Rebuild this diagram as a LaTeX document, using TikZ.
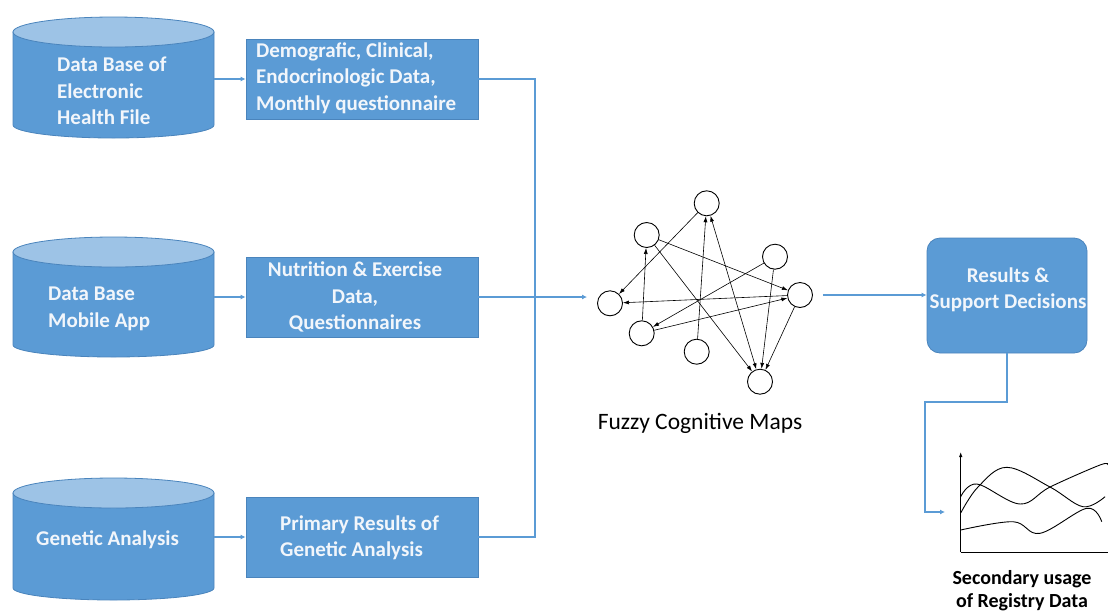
\documentclass[tikz,border=0pt]{standalone}
\usepackage{fontspec}
\setmainfont{Carlito}
\usetikzlibrary{arrows.meta}
\definecolor{boxblue}{HTML}{5B9BD5}
\definecolor{boxedge}{HTML}{4A84BC}
\definecolor{topblue}{HTML}{9DC3E6}
\definecolor{linkblue}{HTML}{5B9BD5}
\definecolor{txtwhite}{HTML}{F2F6FB}
\begin{document}
\begin{tikzpicture}[x=1pt,y=-1pt,
  databox/.style={draw=boxedge,line width=0.8pt,fill=boxblue,minimum width=232pt,minimum height=80pt,inner sep=0pt},
  boxtext/.style={text=txtwhite,font=\fontsize{21}{26.5}\selectfont\bfseries,inner sep=0pt},
  cylbody/.style={draw=boxedge,line width=0.8pt,fill=boxblue},
  cyltop/.style={draw=boxedge,line width=0.8pt,fill=topblue},
  link/.style={draw=linkblue,line width=1.6pt},
  linkarrow/.style={link,-{Latex[length=5pt,width=5pt]}},
  concept/.style={circle,draw=black,line width=0.9pt,minimum size=25pt,inner sep=0pt},
  fcmedge/.style={draw=black,line width=0.6pt,-{Latex[length=6pt,width=4pt]}},
  chartline/.style={draw=black,line width=0.9pt},
  hold/.style={inner sep=0pt,minimum width=201pt}]
\useasboundingbox (0,0) rectangle (1108,614);

% ---------- cylinders ----------
% cylinder 1
\path[cylbody] (13,32) -- (13,125) arc[start angle=180,end angle=0,x radius=100.5,y radius=13] -- (214,32) -- cycle;
\path[cyltop] (113.5,32) ellipse[x radius=100.5,y radius=15];
\node[hold,minimum height=121pt] (cyl1) at (113.5,77.5) {};
\node[boxtext,anchor=west,align=left] (cyl1t) at (57,91) {Data Base of\\Electronic\\Health File};
% cylinder 2
\path[cylbody] (13,252) -- (13,345) arc[start angle=180,end angle=0,x radius=100.5,y radius=12] -- (214,252) -- cycle;
\path[cyltop] (113.5,252) ellipse[x radius=100.5,y radius=15];
\node[hold,minimum height=120pt] (cyl2) at (113.5,297) {};
\node[boxtext,anchor=west,align=left] (cyl2t) at (48,309) {Data Base\\Mobile App};
% cylinder 3
\path[cylbody] (13,493) -- (13,588) arc[start angle=180,end angle=0,x radius=100.5,y radius=12] -- (214,493) -- cycle;
\path[cyltop] (113.5,493) ellipse[x radius=100.5,y radius=15];
\node[hold,minimum height=124pt] (cyl3) at (113.5,537) {};
\node[boxtext,anchor=west] (cyl3t) at (36,540) {Genetic Analysis};

% ---------- data boxes ----------
\node[databox] (box1) at (362,79) {};
\node[boxtext,anchor=west,align=left] at (256,78) {Demografic, Clinical,\\Endocrinologic Data,\\Monthly questionnaire};
\node[databox] (box2) at (362,297) {};
\node[boxtext,align=center] at (355,297) {Nutrition \& Exercise\\Data,\\Questionnaires};
\node[databox] (box3) at (362,537) {};
\node[boxtext,anchor=west,align=left] at (280,538) {Primary Results of\\Genetic Analysis};

% ---------- links ----------
\draw[linkarrow] (cyl1.east |- box1.west) -- (box1.west);
\draw[linkarrow] (cyl2.east |- box2.west) -- (box2.west);
\draw[linkarrow] (cyl3.east |- box3.west) -- (box3.west);
\coordinate (merge) at (535,297);
\draw[link] (box1.east) -| (merge);
\draw[link] (box3.east) -| (merge);

% ---------- fuzzy cognitive map ----------
\node[concept] (A) at (706.7,203.3) {};
\node[concept] (B) at (646.7,235) {};
\node[concept] (C) at (775,256.7) {};
\node[concept] (D) at (800,295) {};
\node[concept] (E) at (610,303.3) {};
\node[concept] (F) at (641.7,333.3) {};
\node[concept] (G) at (696.7,351.7) {};
\node[concept] (H) at (760,381.7) {};
\draw[fcmedge] (A) -- (E);
\draw[fcmedge] (G) -- (A);
\draw[fcmedge,{Latex[length=6pt,width=4pt]}-{Latex[length=6pt,width=4pt]}] (A) -- (H);
\draw[fcmedge] (B) -- (H);
\draw[fcmedge] (C) -- (H);
\draw[fcmedge] (D) -- (H);
\draw[fcmedge] (B) -- (D);
\draw[fcmedge] (F) -- (B);
\draw[fcmedge] (C) -- (F);
\draw[fcmedge] (D) -- (E);
\draw[fcmedge] (F) -- (D);
\node[font=\fontsize{23.5}{26}\selectfont,inner sep=0pt] (fcmlabel) at (700,423) {Fuzzy Cognitive Maps};

\draw[linkarrow] (box2.east) -- (merge) -- ([xshift=-10pt]E.west |- merge);

% ---------- results ----------
\node[draw=boxedge,line width=0.8pt,fill=boxblue,rounded corners=13pt,minimum width=160pt,minimum height=115pt,inner sep=0pt] (res) at (1007,295.5) {};
\node[boxtext,align=center] (restext) at (1008,290) {Results \&\\Support Decisions};
\draw[linkarrow] (D.east) ++(10pt,0) coordinate (dout) (dout) -- (res.west |- dout);

% ---------- chart ----------
\coordinate (orig) at (960.7,552);
\draw[chartline,-{Latex[length=5pt,width=3.5pt]}] (orig) -- (960.7,452) coordinate (ytop);
\draw[chartline] (orig) -- (1108,552) coordinate (xend);
\draw[chartline] plot[smooth,tension=0.6] coordinates {(960.7,513) (978,487) (1006.7,467.3) (1050,487) (1083,506.7) (1105,496.7)};
\draw[chartline] plot[smooth,tension=0.6] coordinates {(960.7,496.7) (977,484) (1020,504) (1050,487) (1100,465) (1108,465)};
\draw[chartline] plot[smooth,tension=0.6] coordinates {(960.7,530) (1013,521.7) (1040,533.3) (1086.7,508.3) (1101.7,521.7)};
\coordinate (chartin) at (945,512);
\draw[linkarrow] (res.south) |- (925,402) |- (chartin);
\node[font=\fontsize{20}{23}\selectfont\bfseries,align=center,inner sep=0pt] (sec) at (1022,591) {Secondary usage\\of Registry Data};
\end{tikzpicture}
\end{document}
